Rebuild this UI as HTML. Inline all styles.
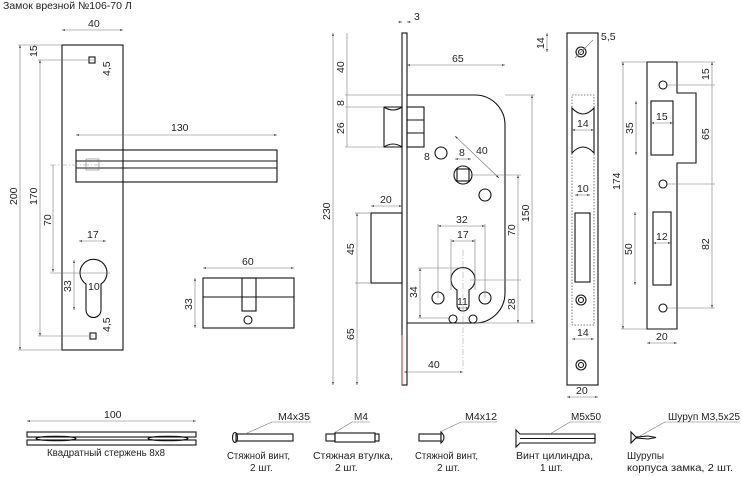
<!DOCTYPE html>
<html><head><meta charset="utf-8"><style>
html,body{margin:0;padding:0;background:#fff}
svg{display:block}
text{font-family:"Liberation Sans","DejaVu Sans",sans-serif;font-size:10.5px;fill:#222}
.o{fill:none;stroke:#111;stroke-width:1.1}
.d{fill:none;stroke:#777;stroke-width:0.6}
.c{fill:none;stroke:#999;stroke-width:0.5;stroke-dasharray:6 2 1 2}
.dot{fill:none;stroke:#555;stroke-width:0.8;stroke-dasharray:1.5 1.5}
.s{font-size:10px}
</style></head><body>
<svg width="742" height="477" viewBox="0 0 742 477" xmlns="http://www.w3.org/2000/svg">
<defs>
<marker id="a" markerWidth="6" markerHeight="6" refX="5" refY="3" orient="auto-start-reverse"><path d="M0,1.5 L5,3 L0,4.5z" fill="#333"/></marker>
</defs>
<text x="3" y="9" font-size="10">Замок врезной №106-70 Л</text>

<!-- handle plate -->
<rect class="o" x="62" y="45" width="61" height="305"/>
<rect class="o" x="76" y="150" width="201" height="32" fill="#fff"/>
<line class="o" x1="76" y1="161" x2="277" y2="161"/><line class="o" x1="76" y1="168" x2="277" y2="168"/>
<rect class="d" x="86" y="159" width="13" height="11"/>
<line class="c" x1="50" y1="165" x2="105" y2="165"/>
<rect class="o" x="89" y="57" width="6" height="6"/>
<rect class="o" x="90" y="333" width="6" height="6"/>
<path class="o" d="M86,310 L86,284 A13.5,13.5 0 1,1 101,284 L101,310 A7.5,7.5 0 0,1 86,310z"/>
<line class="d" x1="62" y1="30" x2="123" y2="30" marker-start="url(#a)" marker-end="url(#a)"/>
<text x="88" y="27">40</text>
<line class="d" x1="76" y1="135" x2="277" y2="135" marker-start="url(#a)" marker-end="url(#a)"/>
<text x="171" y="131">130</text>
<line class="d" x1="20" y1="45" x2="20" y2="350" marker-start="url(#a)" marker-end="url(#a)"/>
<line class="d" x1="18" y1="45" x2="62" y2="45"/><line class="d" x1="18" y1="350" x2="62" y2="350"/>
<text transform="translate(17,205) rotate(-90)">200</text>
<line class="d" x1="40" y1="60" x2="40" y2="336" marker-start="url(#a)" marker-end="url(#a)"/>
<line class="d" x1="38" y1="60" x2="95" y2="60"/><line class="d" x1="38" y1="336" x2="93" y2="336"/>
<text transform="translate(37,205) rotate(-90)">170</text>
<text transform="translate(37,57) rotate(-90)">15</text>
<line class="d" x1="53" y1="165" x2="53" y2="272" marker-end="url(#a)"/>
<line class="d" x1="50" y1="273" x2="110" y2="273"/>
<text transform="translate(51,226) rotate(-90)">70</text>
<line class="d" x1="79" y1="241" x2="106" y2="241" marker-start="url(#a)" marker-end="url(#a)"/>
<text x="87" y="238">17</text>
<line class="d" x1="74" y1="260" x2="74" y2="310" marker-start="url(#a)" marker-end="url(#a)"/>
<text transform="translate(71,292) rotate(-90)">33</text>
<text x="88" y="290">10</text>
<text transform="translate(110,76) rotate(-90)">4,5</text>
<text transform="translate(110,332) rotate(-90)">4,5</text>

<!-- cylinder -->
<rect class="o" x="203" y="278" width="91" height="50"/>
<line class="o" x1="203" y1="297" x2="294" y2="297"/>
<rect class="o" x="242" y="278" width="14" height="33" fill="#fff"/>
<circle class="o" cx="248" cy="320" r="4"/>
<line class="d" x1="203" y1="268" x2="294" y2="268" marker-start="url(#a)" marker-end="url(#a)"/>
<text x="242" y="265">60</text>
<line class="d" x1="195" y1="278" x2="195" y2="328" marker-start="url(#a)" marker-end="url(#a)"/>
<text transform="translate(192,310) rotate(-90)">33</text>

<!-- lock body -->
<rect class="o" x="402" y="33" width="5" height="352"/>
<line x1="402" y1="335" x2="402" y2="385" stroke="#c04060" stroke-width="1"/>
<path class="o" d="M407,95 L475,95 A30,30 0 0,1 505,125 L505,293 A30,30 0 0,1 475,323 L407,323"/>
<path class="o" d="M384,107 L402,107 L402,147 L384,147z M384,107 Q393,113 402,107 M384,147 Q393,141 402,147"/>
<rect class="o" x="407" y="107" width="17" height="40"/>
<line class="o" x1="407" y1="120" x2="424" y2="120"/><line class="o" x1="407" y1="133" x2="424" y2="133"/>
<rect class="o" x="371" y="213" width="31" height="70"/>
<circle class="o" cx="441" cy="153" r="6"/><circle class="o" cx="485" cy="195" r="6"/>
<circle class="o" cx="463" cy="175" r="9"/><rect class="o" x="457" y="169" width="12" height="12"/>
<path class="o" d="M457,305 L457,290 A12,12 0 1,1 469,290 L469,305 A6,6 0 0,1 457,305z"/>
<circle class="o" cx="438" cy="298" r="6"/><circle class="o" cx="485" cy="298" r="6"/>
<circle class="o" cx="453" cy="319" r="4"/><circle class="o" cx="473" cy="319" r="4"/>
<line class="c" x1="463" y1="250" x2="463" y2="370"/>
<line class="d" x1="398" y1="22" x2="402" y2="22" marker-end="url(#a)"/><line class="d" x1="411" y1="22" x2="407" y2="22" marker-end="url(#a)"/>
<text x="414" y="20">3</text>
<line class="d" x1="407" y1="65" x2="505" y2="65" marker-start="url(#a)" marker-end="url(#a)"/>
<text x="452" y="62">65</text>
<line class="d" x1="333" y1="33" x2="333" y2="385" marker-start="url(#a)" marker-end="url(#a)"/>
<text transform="translate(330,220) rotate(-90)">230</text>
<line class="d" x1="347" y1="33" x2="347" y2="147"/>
<line class="d" x1="345" y1="95" x2="402" y2="95"/><line class="d" x1="345" y1="107" x2="384" y2="107"/><line class="d" x1="345" y1="147" x2="384" y2="147"/>
<text transform="translate(344,73) rotate(-90)">40</text>
<text transform="translate(344,106) rotate(-90)">8</text>
<text transform="translate(344,134) rotate(-90)">26</text>
<line class="d" x1="357" y1="213" x2="357" y2="385" marker-start="url(#a)" marker-end="url(#a)"/>
<line class="d" x1="355" y1="213" x2="371" y2="213"/><line class="d" x1="355" y1="283" x2="371" y2="283"/>
<text transform="translate(354,255) rotate(-90)">45</text>
<text transform="translate(354,340) rotate(-90)">65</text>
<line class="d" x1="371" y1="206" x2="402" y2="206" marker-start="url(#a)" marker-end="url(#a)"/>
<text x="380" y="203">20</text>
<line class="d" x1="404" y1="372" x2="463" y2="372" marker-start="url(#a)" marker-end="url(#a)"/>
<text x="428" y="368">40</text>
<line class="d" x1="532" y1="95" x2="532" y2="323" marker-start="url(#a)" marker-end="url(#a)"/>
<line class="d" x1="505" y1="95" x2="535" y2="95"/><line class="d" x1="475" y1="323" x2="535" y2="323"/>
<text transform="translate(529,222) rotate(-90)">150</text>
<line class="d" x1="518" y1="175" x2="518" y2="323" marker-start="url(#a)" marker-end="url(#a)"/>
<line class="d" x1="470" y1="175" x2="521" y2="175"/><line class="d" x1="470" y1="280" x2="521" y2="280"/>
<text transform="translate(515,236) rotate(-90)">70</text>
<text transform="translate(515,310) rotate(-90)">28</text>
<line class="d" x1="455" y1="136" x2="499" y2="178" marker-start="url(#a)" marker-end="url(#a)"/>
<text x="476" y="154">40</text>
<line class="d" x1="455" y1="159" x2="471" y2="159" marker-start="url(#a)" marker-end="url(#a)"/>
<text x="459" y="156">8</text>
<text x="424" y="160">8</text>
<line class="d" x1="438" y1="226" x2="485" y2="226" marker-start="url(#a)" marker-end="url(#a)"/>
<line class="d" x1="438" y1="224" x2="438" y2="298"/><line class="d" x1="485" y1="224" x2="485" y2="298"/>
<text x="456" y="223">32</text>
<line class="d" x1="451" y1="241" x2="475" y2="241" marker-start="url(#a)" marker-end="url(#a)"/>
<line class="d" x1="451" y1="239" x2="451" y2="290"/><line class="d" x1="475" y1="239" x2="475" y2="290"/>
<text x="457" y="238">17</text>
<line class="d" x1="420" y1="268" x2="420" y2="318" marker-start="url(#a)" marker-end="url(#a)"/>
<line class="d" x1="418" y1="268" x2="465" y2="268"/><line class="d" x1="418" y1="318" x2="450" y2="318"/>
<text transform="translate(417,298) rotate(-90)">34</text>
<line class="d" x1="457" y1="308" x2="469" y2="308" marker-start="url(#a)" marker-end="url(#a)"/>
<text x="457" y="305">11</text>

<!-- front plate -->
<rect class="o" x="567" y="33" width="31" height="352"/>
<rect class="dot" x="572" y="95" width="22" height="230"/>
<path class="o" d="M572,108 Q583,120 594,108 L594,153 Q583,141 572,153z" fill="#fff"/>
<rect class="o" x="575" y="213" width="15" height="69"/>
<circle class="o" cx="581" cy="52" r="5"/><circle class="o" cx="581" cy="52" r="2.5"/>
<circle class="o" cx="581" cy="300" r="5"/><circle class="o" cx="581" cy="300" r="2.5"/>
<circle class="o" cx="581" cy="365" r="5"/><circle class="o" cx="581" cy="365" r="2.5"/>
<line class="d" x1="575" y1="58" x2="593" y2="40"/><text x="601" y="40">5,5</text>
<line class="d" x1="547" y1="33" x2="547" y2="52" marker-start="url(#a)" marker-end="url(#a)"/>
<text transform="translate(544,49) rotate(-90)">14</text>
<line class="d" x1="572" y1="130" x2="594" y2="130" marker-start="url(#a)" marker-end="url(#a)"/><text x="577" y="127">14</text>
<line class="d" x1="575" y1="195" x2="590" y2="195" marker-start="url(#a)" marker-end="url(#a)"/><text x="577" y="192">10</text>
<line class="d" x1="572" y1="339" x2="594" y2="339" marker-start="url(#a)" marker-end="url(#a)"/><text x="577" y="336">14</text>
<line class="d" x1="567" y1="397" x2="598" y2="397" marker-start="url(#a)" marker-end="url(#a)"/><text x="576" y="394">20</text>

<!-- strike plate -->
<path class="o" d="M647,62 L677,62 L677,93 L696,93 L696,163 L677,163 L677,329 L647,329z"/>
<rect class="o" x="651" y="101" width="22" height="54"/>
<rect class="o" x="653" y="212" width="18" height="73"/>
<circle class="o" cx="663" cy="85" r="4"/><circle class="o" cx="663" cy="184" r="4"/><circle class="o" cx="663" cy="308" r="4"/>
<line class="d" x1="623" y1="62" x2="623" y2="329" marker-start="url(#a)" marker-end="url(#a)"/>
<line class="d" x1="621" y1="62" x2="647" y2="62"/><line class="d" x1="621" y1="329" x2="647" y2="329"/>
<text transform="translate(620,190) rotate(-90)">174</text>
<line class="d" x1="636" y1="101" x2="636" y2="155" marker-start="url(#a)" marker-end="url(#a)"/>
<text transform="translate(633,134) rotate(-90)">35</text>
<line class="d" x1="635" y1="212" x2="635" y2="285" marker-start="url(#a)" marker-end="url(#a)"/>
<text transform="translate(632,255) rotate(-90)">50</text>
<line class="d" x1="651" y1="123" x2="673" y2="123" marker-start="url(#a)" marker-end="url(#a)"/><text x="656" y="120">15</text>
<line class="d" x1="653" y1="243" x2="671" y2="243" marker-start="url(#a)" marker-end="url(#a)"/><text x="656" y="240">12</text>
<line class="d" x1="712" y1="62" x2="712" y2="308" marker-start="url(#a)" marker-end="url(#a)"/>
<line class="d" x1="677" y1="62" x2="715" y2="62"/><line class="d" x1="667" y1="85" x2="715" y2="85"/><line class="d" x1="667" y1="184" x2="715" y2="184"/><line class="d" x1="667" y1="308" x2="715" y2="308"/>
<text transform="translate(709,80) rotate(-90)">15</text>
<text transform="translate(709,140) rotate(-90)">65</text>
<text transform="translate(709,250) rotate(-90)">82</text>
<line class="d" x1="647" y1="343" x2="677" y2="343" marker-start="url(#a)" marker-end="url(#a)"/><text x="656" y="340">20</text>

<!-- accessories -->
<line class="d" x1="27" y1="421" x2="196" y2="421" marker-start="url(#a)" marker-end="url(#a)"/>
<text x="104" y="418">100</text>
<rect class="o" x="27" y="432" width="169" height="5"/><rect class="o" x="27" y="440" width="169" height="5"/>
<ellipse class="o" cx="56" cy="438.5" rx="20" ry="2.2"/><ellipse class="o" cx="168" cy="438.5" rx="20" ry="2.2"/>
<text class="s" x="47" y="456" textLength="118" lengthAdjust="spacingAndGlyphs">Квадратный стержень 8х8</text>

<rect class="o" x="236" y="434" width="57" height="7"/><ellipse class="o" cx="235" cy="437.5" rx="2.5" ry="5"/>
<line class="d" x1="245" y1="434" x2="272" y2="422"/><line class="d" x1="272" y1="422" x2="311" y2="422"/>
<text class="s" x="278" y="420" textLength="32" lengthAdjust="spacingAndGlyphs">М4х35</text>
<text class="s" x="227" y="459" textLength="63" lengthAdjust="spacingAndGlyphs">Стяжной винт,</text><text class="s" x="250" y="471">2 шт.</text>

<rect class="o" x="326" y="434" width="9" height="7"/><rect class="o" x="335" y="433" width="40" height="9"/><rect class="o" x="375" y="434" width="4" height="7"/>
<line class="d" x1="334" y1="433" x2="352" y2="422"/><line class="d" x1="352" y1="422" x2="370" y2="422"/>
<text class="s" x="354" y="420">М4</text>
<text class="s" x="313" y="459" textLength="80" lengthAdjust="spacingAndGlyphs">Стяжная втулка,</text><text class="s" x="335" y="471">2 шт.</text>

<rect class="o" x="419" y="434" width="22" height="7"/><path class="o" d="M441,432 Q447,437.5 441,443z"/>
<line class="d" x1="440" y1="432" x2="461" y2="422"/><line class="d" x1="461" y1="422" x2="497" y2="422"/>
<text class="s" x="465" y="420" textLength="32" lengthAdjust="spacingAndGlyphs">М4х12</text>
<text class="s" x="415" y="459" textLength="63" lengthAdjust="spacingAndGlyphs">Стяжной винт,</text><text class="s" x="437" y="471">2 шт.</text>

<path class="o" d="M516,430 L520,434 L595,434 L595,443 L520,443 L516,447z"/>
<line class="o" x1="520" y1="438.5" x2="595" y2="438.5"/>
<line class="d" x1="550" y1="434" x2="570" y2="422"/><line class="d" x1="570" y1="422" x2="601" y2="422"/>
<text class="s" x="571" y="420" textLength="30" lengthAdjust="spacingAndGlyphs">М5х50</text>
<text class="s" x="516" y="459" textLength="77" lengthAdjust="spacingAndGlyphs">Винт цилиндра,</text><text class="s" x="540" y="471">1 шт.</text>

<path class="o" d="M631,432 L636,437 L648,436 L656,437.5 L648,439 L636,438 L631,443z"/>
<line class="d" x1="640" y1="436" x2="665" y2="422"/><line class="d" x1="665" y1="422" x2="740" y2="422"/>
<text class="s" x="668" y="420" textLength="72" lengthAdjust="spacingAndGlyphs">Шуруп М3,5х25</text>
<text class="s" x="627" y="459">Шурупы</text><text class="s" x="627" y="471" textLength="106" lengthAdjust="spacingAndGlyphs">корпуса замка, 2 шт.</text>
</svg>
</body></html>
